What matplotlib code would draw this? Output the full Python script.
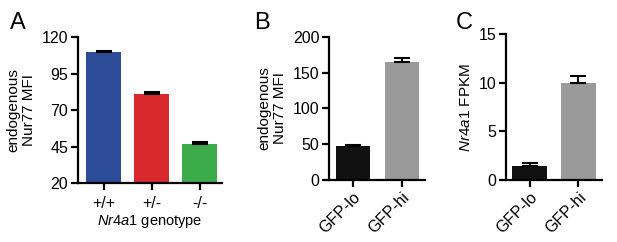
import numpy as np
import matplotlib.pyplot as plt

plt.rcParams['font.family'] = ['Liberation Sans', 'DejaVu Sans']
plt.rcParams['mathtext.fontset'] = 'custom'
plt.rcParams['mathtext.it'] = 'Liberation Sans:italic'
plt.rcParams['mathtext.rm'] = 'Liberation Sans'

# panel A
geno = ['+/+', '+/-', '-/-']
mfi_a = [110, 81, 47]
err_a = [0.5, 1.2, 0.8]

# panel B
groups = ['GFP-lo', 'GFP-hi']
mfi_b = [47, 165]
err_b = [2, 6]

# panel C
fpkm = [1.4, 10]
err_c = [0.3, 0.7]

col_a = ['#2c4c9a', '#d9292d', '#3cab4a']
col_bc = ['#111111', '#9a9a9a']


def style(ax):
    for s in ['top', 'right']:
        ax.spines[s].set_visible(False)
    for s in ['left', 'bottom']:
        ax.spines[s].set_linewidth(1.6)
    ax.tick_params(width=1.6, length=5, labelsize=11.5, pad=2)


fig = plt.figure(figsize=(6.17, 2.42), dpi=100)

# A
ax = fig.add_axes([0.1264, 0.2438, 0.2334, 0.603])
x = np.arange(len(geno))
ax.bar(x, mfi_a, width=0.73, color=col_a, bottom=0)
ax.errorbar(x, mfi_a, yerr=[np.zeros(3), err_a], fmt='none', ecolor='black',
            elinewidth=1.5, capsize=6, capthick=1.5)
ax.set_ylim(20, 120)
ax.set_yticks([20, 45, 70, 95, 120])
ax.set_xlim(-0.53, 2.46)
ax.set_xticks(x)
ax.set_xticklabels(geno, fontsize=10.5)
style(ax)
ax.tick_params(axis='x', pad=4)
ax.set_ylabel('endogenous\nNur77 MFI', fontsize=11, labelpad=4)
ax.set_xlabel('$\\it{Nr4a1}$ genotype', fontsize=10.5, labelpad=2)
fig.text(0.016, 0.88, 'A', fontsize=17)

# B
ax = fig.add_axes([0.5332, 0.2562, 0.1556, 0.591])
x = np.arange(len(groups))
ax.bar(x, mfi_b, width=0.7, color=col_bc)
ax.errorbar(x, mfi_b, yerr=[np.zeros(2), err_b], fmt='none', ecolor='black',
            elinewidth=1.5, capsize=6, capthick=1.5)
ax.set_ylim(0, 200)
ax.set_yticks([0, 50, 100, 150, 200])
ax.set_xlim(-0.49, 1.48)
ax.set_xticks(x)
ax.set_xticklabels(groups, rotation=45, ha='right', rotation_mode='anchor',
                   fontsize=10.5)
style(ax)
ax.set_ylabel('endogenous\nNur77 MFI', fontsize=11, labelpad=4)
fig.text(0.412, 0.88, 'B', fontsize=17)

# C
ax = fig.add_axes([0.8201, 0.2562, 0.1556, 0.603])
ax.bar(x, fpkm, width=0.7, color=col_bc)
ax.errorbar(x, fpkm, yerr=[np.zeros(2), err_c], fmt='none', ecolor='black',
            elinewidth=1.5, capsize=6, capthick=1.5)
ax.set_ylim(0, 15)
ax.set_yticks([0, 5, 10, 15])
ax.set_xlim(-0.48, 1.48)
ax.set_xticks(x)
ax.set_xticklabels(groups, rotation=45, ha='right', rotation_mode='anchor',
                   fontsize=10.5)
style(ax)
ax.set_ylabel('$\\it{Nr4a1}$ FPKM', fontsize=11, labelpad=4)
fig.text(0.738, 0.88, 'C', fontsize=17)

fig.savefig('out.png', dpi=100)
